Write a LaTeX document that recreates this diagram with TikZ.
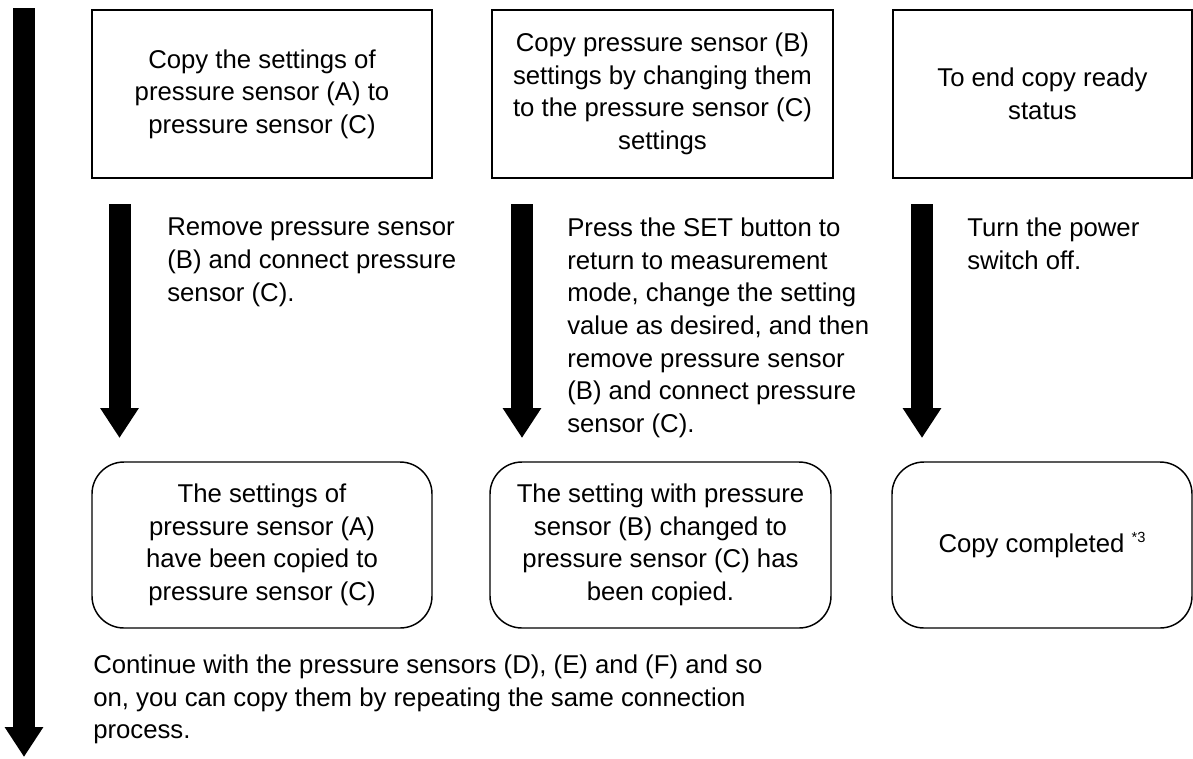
\documentclass[tikz,border=0pt]{standalone}
\usepackage{fontspec}
\setmainfont{Liberation Sans}
\usetikzlibrary{arrows.meta}

\begin{document}
\begin{tikzpicture}[x=0.75pt,y=-0.75pt,
  every node/.style={font=\fontsize{19.3}{24.4}\selectfont, align=center, inner sep=0pt},
  stepbox/.style={draw, line width=1.5pt, minimum height=126pt},
  donebox/.style={draw, line width=1.1pt, rounded corners=24pt, minimum height=124.5pt},
  note/.style={anchor=north west, align=left},
  flow/.style={line width=16.5pt, -{Triangle[length=22.5pt,width=27.5pt]}}]
  \useasboundingbox (0,0) rectangle (1193,758);
  % what is to be done
  \node[stepbox, minimum width=255pt] (s1) at (262,94)
    {Copy the settings of\\pressure sensor (A) to\\pressure sensor (C)};
  \node[stepbox, minimum width=255.75pt] (s2) at (662.5,94)
    {Copy pressure sensor (B)\\settings by changing them\\to the pressure sensor (C)\\settings};
  \node[stepbox, minimum width=224.25pt] (s3) at (1042.5,94)
    {To end copy ready\\status};
  % what comes out of it
  \node[donebox, minimum width=255pt] (r1) at (262,545)
    {The settings of\\pressure sensor (A)\\have been copied to\\pressure sensor (C)};
  \node[donebox, minimum width=255.75pt] (r2) at (660.5,545)
    {The setting with pressure\\sensor (B) changed to\\pressure sensor (C) has\\been copied.};
  \node[donebox, minimum width=225pt] (r3) at (1042,545)
    {Copy completed \raisebox{0.42em}{\fontsize{11}{11}\selectfont *3}};
  % the steps in between
  \foreach \x/\n in {119.5/1,522/2,922/3}{
    \coordinate (t\n) at (\x,204);
    \coordinate (h\n) at (\x,438);
    \draw[flow] (t\n) -- (h\n);
  }
  \node[note] (n1) at (167,218)
    {Remove pressure sensor\\(B) and connect pressure\\sensor (C).};
  \node[note] (n2) at (567,218)
    {Press the SET button to\\return to measurement\\mode, change the setting\\value as desired, and then\\remove pressure sensor\\(B) and connect pressure\\sensor (C).};
  \node[note] (n3) at (967,218)
    {Turn the power\\switch off.};
  % the whole run, top to bottom
  \coordinate (ltop) at (24,8);
  \coordinate (lend) at (24,757);
  \draw[flow] (ltop) -- (lend);
  \node[note] (more) at (93,655)
    {Continue with the pressure sensors (D), (E) and (F) and so\\on, you can copy them by repeating the same connection\\process.};
\end{tikzpicture}
\end{document}
